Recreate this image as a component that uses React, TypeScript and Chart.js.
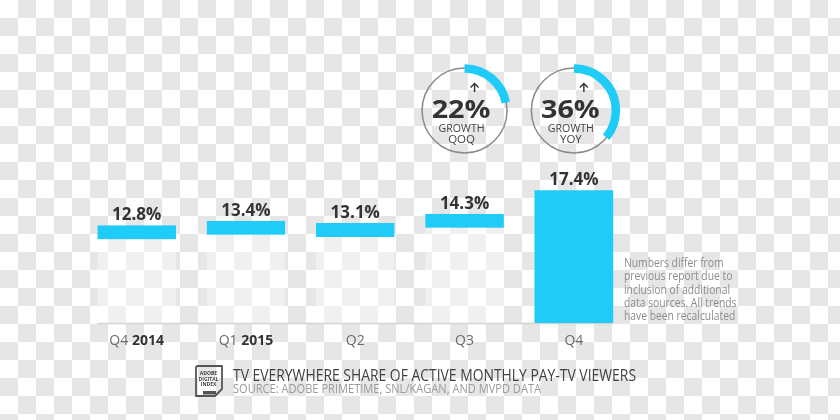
import React, { useEffect, useRef } from "react";
import { Chart, registerables } from "chart.js";

Chart.register(...registerables);

const categories = ["Q4 2014", "Q1 2015", "Q2", "Q3", "Q4"];
const quarterLabels = ["Q4", "Q1", "Q2", "Q3", "Q4"];
const yearLabels = ["2014", "2015", "", "", ""];
const shareValues = [12.8, 13.4, 13.1, 14.3, 17.4];

const growthValues = [22, 36];
const growthNames = ["QOQ", "YOY"];
const growthCategoryIndex = [3, 4];

const noteLines = [
  "Numbers differ from",
  "previous report due to",
  "inclusion of additional",
  "data sources. All trends",
  "have been recalculated",
];
const titleText = "TV EVERYWHERE SHARE OF ACTIVE MONTHLY PAY-TV VIEWERS";
const sourceText = "SOURCE: ADOBE PRIMETIME, SNL/KAGAN, AND MVPD DATA";
const badgeLines = ["ADOBE", "DIGITAL", "INDEX"];

const BLUE = "#1fcbf7";
const FONT = "'Open Sans', 'Noto Sans', sans-serif";

const decorPlugin = {
  id: "decor",
  beforeDatasetsDraw(chart: any) {
    const ctx = chart.ctx;
    const meta = chart.getDatasetMeta(0);
    const y0 = chart.scales.y.getPixelForValue(0);
    const first = meta.data[0];
    const last = meta.data[meta.data.length - 1];
    ctx.save();
    ctx.strokeStyle = "#d2d2d2";
    ctx.lineWidth = 1.5;
    ctx.beginPath();
    ctx.moveTo(first.x - first.width / 2, y0 + 0.5);
    ctx.lineTo(last.x + last.width / 2, y0 + 0.5);
    ctx.stroke();
    ctx.restore();
  },
  afterDatasetsDraw(chart: any) {
    const ctx = chart.ctx;
    const meta = chart.getDatasetMeta(0);
    const y0 = chart.scales.y.getPixelForValue(0);
    ctx.save();

    // value labels
    ctx.textAlign = "center";
    ctx.textBaseline = "alphabetic";
    ctx.fillStyle = "#333333";
    ctx.font = `bold 17px ${FONT}`;
    meta.data.forEach((bar: any, i: number) => {
      ctx.fillText(shareValues[i].toFixed(1) + "%", bar.x, bar.y - 5);
    });

    // category labels (quarter regular + year bold)
    ctx.textAlign = "left";
    meta.data.forEach((bar: any, i: number) => {
      const q = quarterLabels[i];
      const yr = yearLabels[i];
      ctx.font = `14px ${FONT}`;
      const qText = yr ? q + " " : q;
      const qw = ctx.measureText(qText).width;
      ctx.font = `bold 14px ${FONT}`;
      const yw = yr ? ctx.measureText(yr).width : 0;
      const start = bar.x - (qw + yw) / 2;
      const by = y0 + 22;
      ctx.font = `14px ${FONT}`;
      ctx.fillStyle = "#6a6a6a";
      ctx.fillText(qText, start, by);
      if (yr) {
        ctx.font = `bold 14px ${FONT}`;
        ctx.fillStyle = "#333333";
        ctx.fillText(yr, start + qw, by);
      }
    });

    // growth gauges
    growthValues.forEach((v, k) => {
      const bar = meta.data[growthCategoryIndex[k]];
      const cx = bar.x;
      const cy = 110.5;
      const r = 42.5;
      ctx.strokeStyle = "#8a8a8a";
      ctx.lineWidth = 1.5;
      ctx.beginPath();
      ctx.arc(cx, cy, r, 0, Math.PI * 2);
      ctx.stroke();
      ctx.strokeStyle = BLUE;
      ctx.lineWidth = 8.5;
      ctx.lineCap = "butt";
      ctx.beginPath();
      ctx.arc(cx, cy, r - 0.5, -Math.PI / 2, -Math.PI / 2 + (Math.PI * 2 * v) / 100);
      ctx.stroke();
      // arrow
      const ax = cx + 10;
      const ay = 83.5;
      ctx.strokeStyle = "#333333";
      ctx.lineWidth = 1.4;
      ctx.beginPath();
      ctx.moveTo(ax - 4, ay + 4);
      ctx.lineTo(ax, ay);
      ctx.lineTo(ax + 4, ay + 4);
      ctx.moveTo(ax, ay);
      ctx.lineTo(ax, ay + 8.5);
      ctx.stroke();
      // texts
      ctx.textAlign = "center";
      ctx.fillStyle = "#333333";
      ctx.font = `bold 25px ${FONT}`;
      ctx.save();
      ctx.translate(cx - 3.5, cy + 7);
      ctx.scale(1.15, 1);
      ctx.fillText(v + "%", 0, 0);
      ctx.restore();
      ctx.fillStyle = "#444444";
      ctx.font = `11.5px ${FONT}`;
      ctx.fillText("GROWTH", cx - 3, cy + 21, 46);
      ctx.fillText(growthNames[k], cx - 3, cy + 32);
    });

    // side note
    const area = chart.chartArea;
    ctx.textAlign = "left";
    ctx.fillStyle = "#8c8c8c";
    ctx.font = `12px ${FONT}`;
    noteLines.forEach((line, i) => {
      ctx.save();
      ctx.translate(area.right - 4.5, 0);
      ctx.scale(0.86, 1);
      ctx.fillText(line, 0, 267 + i * 13.3);
      ctx.restore();
    });

    // footer badge
    ctx.strokeStyle = "#555555";
    ctx.lineWidth = 1.8;
    ctx.lineJoin = "round";
    ctx.beginPath();
    ctx.moveTo(196, 368);
    ctx.quadraticCurveTo(196, 366, 198, 366);
    ctx.lineTo(222, 366);
    ctx.lineTo(222, 389);
    ctx.lineTo(215, 396);
    ctx.lineTo(196, 396);
    ctx.closePath();
    ctx.stroke();
    ctx.fillStyle = "#555555";
    ctx.fillRect(203, 391, 13, 3.5);
    ctx.fillStyle = "#3d3d3d";
    ctx.font = `bold 5px ${FONT}`;
    ctx.textAlign = "center";
    badgeLines.forEach((t, i) => {
      ctx.fillText(t, 208.5, 375 + i * 5.5, 20);
    });

    // footer texts
    ctx.textAlign = "left";
    ctx.fillStyle = "#3f3f3f";
    ctx.font = `15.5px ${FONT}`;
    ctx.fillText(titleText, 233, 380.5, 403);
    ctx.fillStyle = "#9a9a9a";
    ctx.font = `12px ${FONT}`;
    ctx.fillText(sourceText, 233, 392.5, 308);

    ctx.restore();
  },
};

export default function App() {
  const canvasRef = useRef<HTMLCanvasElement | null>(null);

  useEffect(() => {
    const canvas = canvasRef.current;
    if (!canvas) return;
    const lastIndex = shareValues.length - 1;
    const chart = new Chart(canvas, {
      type: "bar",
      data: {
        labels: categories,
        datasets: [
          {
            data: shareValues,
            backgroundColor: shareValues.map((_, i) =>
              i === lastIndex ? BLUE : "rgba(255,255,255,0.4)"
            ),
            borderColor: BLUE,
            borderWidth: shareValues.map((_, i) =>
              i === lastIndex
                ? 0
                : { top: 14, left: 0, right: 0, bottom: 0 }
            ),
            borderSkipped: false,
            barPercentage: 0.72,
            categoryPercentage: 1,
          },
        ],
      },
      options: {
        responsive: false,
        animation: false,
        devicePixelRatio: 1,
        layout: { padding: { left: 82, right: 211.5, top: 94, bottom: 97 } },
        scales: {
          x: { display: false },
          y: { display: false, min: 0, max: 30 },
        },
        plugins: {
          legend: { display: false },
          tooltip: { enabled: false },
        },
      },
      plugins: [decorPlugin],
    } as any);
    return () => chart.destroy();
  }, []);

  return (
    <div
      style={{
        position: "absolute",
        left: 0,
        top: 0,
        width: 840,
        height: 420,
        backgroundColor: "#ffffff",
        backgroundImage:
          "conic-gradient(#e6e6e6 25%, transparent 0 50%, #e6e6e6 0 75%, transparent 0)",
        backgroundSize: "36px 36px",
      }}
    >
      <canvas ref={canvasRef} width={840} height={420} style={{ display: "block" }} />
    </div>
  );
}
